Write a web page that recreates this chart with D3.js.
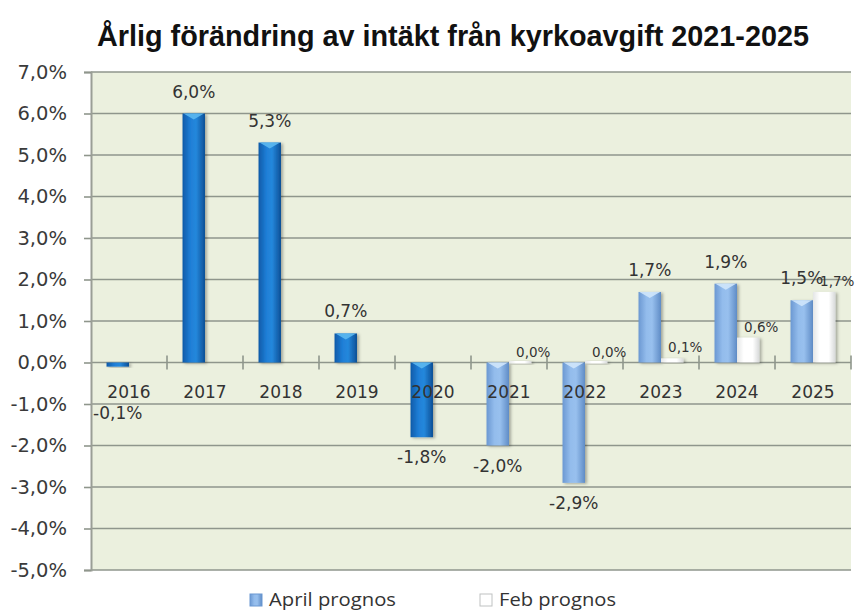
<!DOCTYPE html>
<html><head><meta charset="utf-8">
<script src="https://cdn.jsdelivr.net/npm/d3@7"></script>
<style>html,body{margin:0;padding:0;background:#fff;}svg{display:block;}</style>
</head><body>
<svg id="chart" width="864" height="614"></svg>
<script>
const titleText = "Årlig förändring av intäkt från kyrkoavgift 2021-2025";
const categories = ["2016","2017","2018","2019","2020","2021","2022","2023","2024","2025"];
const aprilValues = [-0.1, 6.0, 5.3, 0.7, -1.8, -2.0, -2.9, 1.7, 1.9, 1.5];
const febValues = [null, null, null, null, null, 0.0, 0.0, 0.1, 0.6, 1.7];
const forecastStart = "2021";
const yTicks = [-5, -4, -3, -2, -1, 0, 1, 2, 3, 4, 5, 6, 7];
const seriesNames = ["April prognos", "Feb prognos"];

const svg = d3.select("#chart");
const plot = {left: 91, right: 851, top: 72, bottom: 570};
const fmt = d => d.toFixed(1).replace(".", ",") + "%";

const x = d3.scaleBand().domain(categories).range([plot.left, plot.right]);
const x1 = d3.scaleBand().domain(["april","feb"]).range([0, x.bandwidth()]).paddingInner(0).paddingOuter(0.69);
const y = d3.scaleLinear().domain([-5, 7]).range([plot.bottom, plot.top]);

const defs = svg.append("defs");
function hGrad(id, stops) {
  const g = defs.append("linearGradient").attr("id", id).attr("x1","0").attr("x2","1").attr("y1","0").attr("y2","0");
  stops.forEach(s => g.append("stop").attr("offset", s[0]).attr("stop-color", s[1]));
}
hGrad("gDark", [[0,"#0e5aa8"],[0.35,"#1f7ed6"],[0.6,"#2488dc"],[1,"#0c4f96"]]);
hGrad("gLight", [[0,"#6b98d2"],[0.35,"#93bcec"],[0.6,"#98c0ee"],[1,"#5f8cc6"]]);
hGrad("gWhite", [[0,"#e4e6e6"],[0.3,"#ffffff"],[0.7,"#ffffff"],[1,"#d6d8d8"]]);
const sh = defs.append("filter").attr("id","shadow").attr("x","-30%").attr("y","-30%").attr("width","160%").attr("height","160%");
sh.append("feDropShadow").attr("dx",2).attr("dy",1).attr("stdDeviation",1.5).attr("flood-color","#000").attr("flood-opacity",0.3);

// title
svg.append("text").attr("x", 453).attr("y", 46).attr("text-anchor","middle")
  .attr("font-family","'Liberation Sans Narrow','Arial Narrow','Liberation Sans',Arial,sans-serif")
  .attr("font-weight","bold").attr("font-size", 29).attr("fill","#111")
  .attr("textLength", 712).attr("lengthAdjust","spacingAndGlyphs")
  .text(titleText);

// plot background
svg.append("rect").attr("x", plot.left).attr("y", plot.top).attr("width", plot.right - plot.left)
  .attr("height", plot.bottom - plot.top).attr("fill", "#ebf0de");

// gridlines
svg.append("g").selectAll("line").data(yTicks).join("line")
  .attr("x1", plot.left).attr("x2", plot.right)
  .attr("y1", d => y(d)).attr("y2", d => y(d))
  .attr("stroke", "#8f968c").attr("stroke-width", 1.6);

// y axis
const yAxis = svg.append("g").attr("transform", `translate(${plot.left},0)`)
  .call(d3.axisLeft(y).tickValues(yTicks).tickFormat(fmt).tickSize(7).tickPadding(17));
yAxis.select(".domain").attr("stroke","#9a9e96").attr("stroke-width",2);
yAxis.selectAll(".tick line").attr("stroke","#8f968c").attr("stroke-width",1.6);
yAxis.selectAll(".tick text").attr("font-family","'DejaVu Sans',Verdana,sans-serif")
  .attr("font-size", 19.5).attr("fill","#3a3a3a");

// x axis tick marks at category boundaries
const y0 = y(0);
const bounds = categories.map(c => x(c)).concat([x(categories[categories.length-1]) + x.bandwidth()]);
svg.append("g").selectAll("line").data(bounds.slice(1)).join("line")
  .attr("x1", d => d).attr("x2", d => d).attr("y1", y0 - 7).attr("y2", y0 + 7)
  .attr("stroke","#8f968c").attr("stroke-width",1.6);

// April bars
const aprilData = categories.map((c,i) => ({c, v: aprilValues[i]}));
const febData = categories.map((c,i) => ({c, v: febValues[i]})).filter(d => d.v !== null);

const gA = svg.append("g");
gA.selectAll("rect").data(aprilData).join("rect")
  .attr("x", d => x(d.c) + x1("april"))
  .attr("width", x1.bandwidth())
  .attr("y", d => y(Math.max(0, d.v)))
  .attr("height", d => Math.abs(y(d.v) - y0))
  .attr("fill", d => d.c >= forecastStart ? "url(#gLight)" : "url(#gDark)")
  .attr("filter","url(#shadow)");
gA.selectAll("path").data(aprilData.filter(d => Math.abs(y(d.v) - y0) > 8)).join("path")
  .attr("d", d => {
    const bx = x(d.c) + x1("april"), bw = x1.bandwidth(), ty = y(Math.max(0, d.v));
    return `M${bx+1},${ty} L${bx+bw-1},${ty} L${bx+bw/2},${ty+6} Z`;
  })
  .attr("fill", d => d.c >= forecastStart ? "#cfe6fb" : "#5cb8f0").attr("opacity",0.9);

// Feb bars
svg.append("g").selectAll("rect").data(febData).join("rect")
  .attr("x", d => x(d.c) + x1("feb"))
  .attr("width", x1.bandwidth())
  .attr("y", d => y(Math.max(0, d.v)) - (d.v === 0 ? 1.5 : 0))
  .attr("height", d => Math.max(2.5, Math.abs(y(d.v) - y0)))
  .attr("fill","url(#gWhite)").attr("filter","url(#shadow)");

// category labels (drawn over bars)
svg.append("g").selectAll("text").data(categories).join("text")
  .attr("x", d => x(d) + x.bandwidth()/2).attr("y", y0 + 35).attr("text-anchor","middle")
  .attr("font-family","'DejaVu Sans',Verdana,sans-serif").attr("font-size",17).attr("fill","#333")
  .text(d => d);

// April labels
svg.append("g").selectAll("text").data(aprilData).join("text")
  .attr("x", d => x(d.c) + x1("april") + x1.bandwidth()/2)
  .attr("y", d => {
    if (d.v >= 0) return y(d.v) - 16;
    let b = y(d.v) + 26;
    if (b < y0 + 50) b = y0 + 56;
    return b;
  })
  .attr("text-anchor","middle").attr("font-family","'DejaVu Sans',Verdana,sans-serif")
  .attr("font-size",17).attr("fill","#333").text(d => fmt(d.v));

// Feb labels
svg.append("g").selectAll("text").data(febData).join("text")
  .attr("x", d => x(d.c) + x1("feb") + x1.bandwidth()/2 + 13)
  .attr("y", d => y(d.v) - 6)
  .attr("text-anchor","middle").attr("font-family","'DejaVu Sans',Verdana,sans-serif")
  .attr("font-size",13.5).attr("fill","#333").text(d => fmt(d.v));

// legend
const legend = svg.append("g");
const legItems = [
  {name: seriesNames[0], x: 250, len: 127, fill: "url(#gLight)", stroke: "#6b98d2"},
  {name: seriesNames[1], x: 480, len: 117, fill: "#ffffff", stroke: "#bfc2c2"}
];
legItems.forEach(it => {
  legend.append("rect").attr("x", it.x).attr("y", 594).attr("width", 12).attr("height", 12)
    .attr("fill", it.fill).attr("stroke", it.stroke).attr("stroke-width", 1);
  legend.append("text").attr("x", it.x + 19).attr("y", 606)
    .attr("font-family","'Open Sans','Noto Sans',sans-serif").attr("font-size",17.5).attr("fill","#333")
    .attr("textLength", it.len).attr("lengthAdjust","spacingAndGlyphs")
    .text(it.name);
});
</script>
</body></html>
